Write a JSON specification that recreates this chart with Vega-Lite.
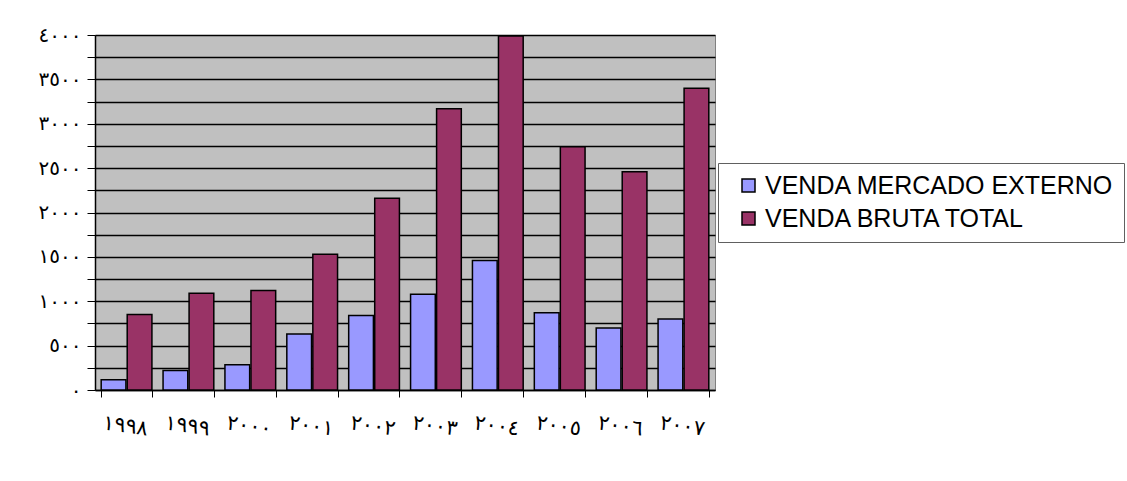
{
  "$schema": "https://vega.github.io/schema/vega-lite/v6.json",
  "autosize": "none",
  "width": 620,
  "height": 355,
  "padding": {"left": 95, "top": 35, "right": 412, "bottom": 91},
  "background": "white",
  "config": {
    "font": "Liberation Sans",
    "view": {"fill": "#c0c0c0", "stroke": "#808080", "strokeWidth": 1}
  },
  "data": {
    "values": [
      {"year": "١٩٩٨", "series": "VENDA MERCADO EXTERNO", "value": 115},
      {"year": "١٩٩٨", "series": "VENDA BRUTA TOTAL", "value": 850},
      {"year": "١٩٩٩", "series": "VENDA MERCADO EXTERNO", "value": 220},
      {"year": "١٩٩٩", "series": "VENDA BRUTA TOTAL", "value": 1090},
      {"year": "٢٠٠٠", "series": "VENDA MERCADO EXTERNO", "value": 285},
      {"year": "٢٠٠٠", "series": "VENDA BRUTA TOTAL", "value": 1120},
      {"year": "٢٠٠١", "series": "VENDA MERCADO EXTERNO", "value": 630},
      {"year": "٢٠٠١", "series": "VENDA BRUTA TOTAL", "value": 1530},
      {"year": "٢٠٠٢", "series": "VENDA MERCADO EXTERNO", "value": 840},
      {"year": "٢٠٠٢", "series": "VENDA BRUTA TOTAL", "value": 2160},
      {"year": "٢٠٠٣", "series": "VENDA MERCADO EXTERNO", "value": 1080},
      {"year": "٢٠٠٣", "series": "VENDA BRUTA TOTAL", "value": 3170},
      {"year": "٢٠٠٤", "series": "VENDA MERCADO EXTERNO", "value": 1460},
      {"year": "٢٠٠٤", "series": "VENDA BRUTA TOTAL", "value": 3990},
      {"year": "٢٠٠٥", "series": "VENDA MERCADO EXTERNO", "value": 870},
      {"year": "٢٠٠٥", "series": "VENDA BRUTA TOTAL", "value": 2740},
      {"year": "٢٠٠٦", "series": "VENDA MERCADO EXTERNO", "value": 700},
      {"year": "٢٠٠٦", "series": "VENDA BRUTA TOTAL", "value": 2460},
      {"year": "٢٠٠٧", "series": "VENDA MERCADO EXTERNO", "value": 800},
      {"year": "٢٠٠٧", "series": "VENDA BRUTA TOTAL", "value": 3400}
    ]
  },
  "mark": {"type": "bar", "stroke": "black", "strokeWidth": 1.5},
  "encoding": {
    "x": {
      "field": "year",
      "type": "nominal",
      "sort": null,
      "title": null,
      "scale": {"paddingInner": 0.18, "paddingOuter": 0.1},
      "axis": {
        "labelAngle": 8,
        "labelAlign": "center",
        "labelBaseline": "top",
        "labelFont": "DejaVu Sans",
        "labelFontSize": 21,
        "labelColor": "black",
        "labelPadding": 18,
        "domainColor": "black",
        "domainWidth": 1.5,
        "tickColor": "black",
        "tickSize": 7,
        "tickBand": "extent",
        "grid": false
      }
    },
    "xOffset": {
      "field": "series",
      "type": "nominal",
      "sort": ["VENDA MERCADO EXTERNO", "VENDA BRUTA TOTAL"],
      "scale": {"paddingInner": 0.05}
    },
    "y": {
      "field": "value",
      "type": "quantitative",
      "title": null,
      "scale": {"domain": [0, 4000], "nice": false},
      "axis": {
        "values": [0, 250, 500, 750, 1000, 1250, 1500, 1750, 2000, 2250, 2500, 2750, 3000, 3250, 3500, 3750, 4000],
        "labelExpr": "datum.value % 500 == 0 ? replace(replace(replace(replace(replace(replace('' + datum.value, regexp('0','g'), '٠'), regexp('1','g'), '١'), regexp('2','g'), '٢'), regexp('3','g'), '٣'), regexp('4','g'), '٤'), regexp('5','g'), '٥') : ''",
        "labelFont": "DejaVu Sans",
        "labelFontSize": 20,
        "labelColor": "black",
        "labelPadding": 6,
        "domainColor": "black",
        "domainWidth": 1.5,
        "tickColor": "black",
        "tickSize": 8,
        "grid": true,
        "gridColor": "black",
        "gridWidth": 1.5,
        "gridOpacity": 1
      }
    },
    "color": {
      "field": "series",
      "type": "nominal",
      "sort": ["VENDA MERCADO EXTERNO", "VENDA BRUTA TOTAL"],
      "scale": {"domain": ["VENDA MERCADO EXTERNO", "VENDA BRUTA TOTAL"], "range": ["#9999ff", "#993366"]},
      "legend": {
        "title": null,
        "orient": "none",
        "legendX": 623,
        "legendY": 128,
        "symbolType": "square",
        "symbolSize": 169,
        "symbolStrokeColor": "black",
        "symbolStrokeWidth": 1.5,
        "symbolOpacity": 1,
        "symbolOffset": 8,
        "labelFontSize": 25,
        "labelColor": "black",
        "labelFont": "Liberation Sans",
        "labelLimit": 500,
        "labelOffset": 4,
        "rowPadding": 7,
        "padding": 10,
        "strokeColor": "#606060",
        "fillColor": "white"
      }
    }
  }
}
